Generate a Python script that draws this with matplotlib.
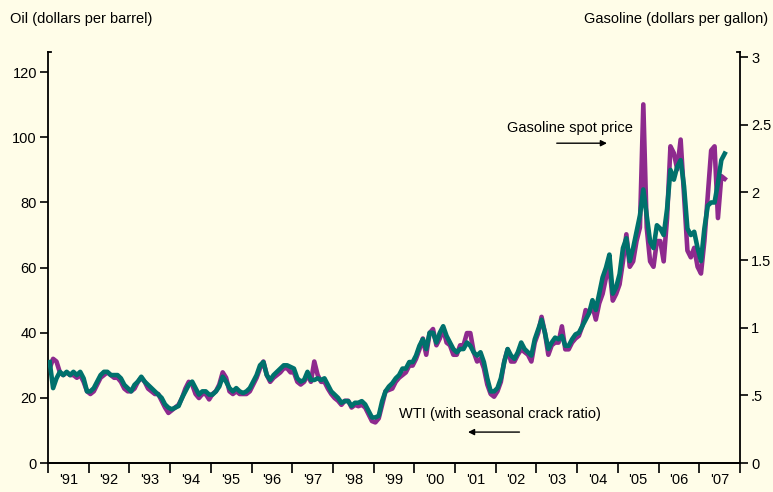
import numpy as np
import pandas as pd
import matplotlib
matplotlib.use("Agg")
import matplotlib.pyplot as plt
from matplotlib.lines import Line2D

plt.rcParams["font.family"] = ["Liberation Sans", "DejaVu Sans"]

BG = "#FFFDE8"
TEAL = "#00716C"
PURPLE = "#8E2A8E"
FS = 10.5

# monthly readings, Jan 1991 - Aug 2007
wti = [
    31, 23, 26, 28, 27, 28, 27, 28, 27, 28, 26, 22,          # 1991
    22, 23, 25, 27, 28, 28, 27, 27, 27, 26, 24, 23,          # 1992
    22, 24, 25, 26.5, 25, 24, 23, 22, 21, 20, 18, 17,        # 1993
    16.5, 17, 17.5, 20, 22, 24, 25, 23, 21, 22, 22, 21,      # 1994
    21, 22, 23.5, 26.5, 25, 23, 22, 23, 22, 21.5, 22, 23,    # 1995
    25, 27, 30, 31, 27, 25.5, 27, 28, 29, 30, 30, 29.5,      # 1996
    29, 26, 25, 25.5, 28, 25.5, 25.5, 26, 25.5, 26, 24, 22,  # 1997
    21, 20, 18.5, 19, 19, 17.5, 18.5, 18.5, 19, 18, 16, 14,  # 1998
    14, 14.5, 19, 22, 23.5, 24.5, 26, 27, 29, 29, 31, 31,    # 1999
    33, 36, 38, 35, 40, 40, 37, 40, 42, 39, 37, 35,          # 2000
    34, 35, 35, 37, 36, 34, 33, 34, 31, 26, 22, 22,          # 2001
    23, 26, 31, 35, 33, 32, 34, 37, 35, 34, 33, 38,          # 2002
    41, 44, 40, 35, 37, 38.5, 38, 39, 36, 36, 38, 39.5,      # 2003
    40, 42, 44, 46, 50, 47, 52, 57, 60, 64, 52, 54,          # 2004
    58, 66, 69, 62, 66, 71, 76, 84, 76, 68, 66, 73,          # 2005
    72, 70, 78, 90, 87, 91, 93, 85, 72, 70, 71, 66,          # 2006
    62, 72, 79, 80, 80, 86, 93, 95,                          # 2007
]

gasoline = [
    0.70, 0.77, 0.75, 0.67, 0.65, 0.67, 0.65, 0.65, 0.63, 0.65, 0.60, 0.53,
    0.51, 0.53, 0.58, 0.63, 0.65, 0.67, 0.65, 0.63, 0.63, 0.60, 0.55, 0.53,
    0.53, 0.55, 0.60, 0.63, 0.60, 0.55, 0.53, 0.51, 0.51, 0.46, 0.41, 0.37,
    0.39, 0.41, 0.43, 0.48, 0.55, 0.60, 0.58, 0.51, 0.48, 0.51, 0.51, 0.47,
    0.51, 0.53, 0.58, 0.67, 0.63, 0.53, 0.51, 0.53, 0.51, 0.51, 0.51, 0.53,
    0.58, 0.63, 0.70, 0.75, 0.65, 0.60, 0.63, 0.65, 0.67, 0.70, 0.70, 0.67,
    0.67, 0.60, 0.58, 0.60, 0.65, 0.60, 0.75, 0.65, 0.60, 0.60, 0.55, 0.51,
    0.48, 0.46, 0.43, 0.46, 0.46, 0.41, 0.43, 0.42, 0.43, 0.41, 0.36, 0.31,
    0.30, 0.33, 0.43, 0.53, 0.54, 0.55, 0.60, 0.63, 0.65, 0.67, 0.72, 0.72,
    0.77, 0.84, 0.92, 0.80, 0.96, 0.99, 0.87, 0.92, 0.99, 0.89, 0.87, 0.80,
    0.80, 0.87, 0.87, 0.96, 0.96, 0.82, 0.75, 0.77, 0.70, 0.58, 0.51, 0.49,
    0.53, 0.60, 0.75, 0.84, 0.75, 0.75, 0.80, 0.84, 0.82, 0.80, 0.75, 0.89,
    0.96, 1.08, 0.96, 0.80, 0.87, 0.89, 0.89, 1.01, 0.84, 0.84, 0.89, 0.92,
    0.94, 1.01, 1.13, 1.11, 1.16, 1.06, 1.18, 1.25, 1.37, 1.45, 1.20, 1.25,
    1.32, 1.49, 1.69, 1.45, 1.49, 1.64, 1.74, 2.65, 1.74, 1.49, 1.45, 1.64,
    1.64, 1.49, 1.81, 2.34, 2.29, 2.17, 2.39, 1.98, 1.57, 1.52, 1.59, 1.45,
    1.40, 1.64, 1.98, 2.31, 2.34, 1.81, 2.12, 2.10,
]

years = list(range(1991, 2008))
year_labels = ["'%02d" % (y % 100) for y in years]

dates = pd.date_range("1991-01-01", periods=len(wti), freq="MS")
t = dates.year + (dates.month - 0.5) / 12.0

fig = plt.figure(figsize=(7.73, 4.92), dpi=100, facecolor=BG)
ax = fig.add_axes([0.0621, 0.0589, 0.8952, 0.8354], facecolor=BG)
ax2 = ax.twinx()

ax2.plot(t, gasoline, color=PURPLE, lw=3.3, solid_joinstyle="round", zorder=2)
ax.plot(t, wti, color=TEAL, lw=3.3, solid_joinstyle="round", zorder=3)
ax.set_zorder(ax2.get_zorder() + 1)
ax.patch.set_visible(False)
ax2.patch.set_facecolor(BG)

ax.set_xlim(1991, 2008)
ax.set_ylim(0, 126.2)
ax2.set_ylim(0, 3.037)

for a in (ax, ax2):
    a.spines["top"].set_visible(False)
    a.spines["left"].set_linewidth(1.3)
    a.spines["right"].set_linewidth(1.3)
    a.spines["bottom"].set_linewidth(1.3)
ax.spines["right"].set_visible(False)
ax2.spines["left"].set_visible(False)

ax.set_yticks(range(0, 121, 20))
ax.tick_params(axis="y", direction="out", length=6, width=1.2, labelsize=FS, pad=2)
ax2.set_yticks([0, 0.5, 1, 1.5, 2, 2.5, 3])
ax2.set_yticklabels(["0", ".5", "1", "1.5", "2", "2.5", "3"])
ax2.tick_params(axis="y", direction="out", length=6, width=1.2, labelsize=FS, pad=2)

ax.set_xticks(range(1991, 2009))
ax.set_xticklabels([])
ax.set_xticks([y + 0.5 for y in years], minor=True)
ax.set_xticklabels(year_labels, minor=True)
ax.tick_params(axis="x", which="major", direction="out", length=7, width=1.2)
ax.tick_params(axis="x", which="minor", length=0, labelsize=FS, pad=7)

# small caps at the top of each vertical spine
ax.add_line(Line2D([0, 0.005], [1, 1], transform=ax.transAxes, color="black",
                   lw=1.3, clip_on=False))
ax.add_line(Line2D([0.995, 1], [1, 1], transform=ax.transAxes, color="black",
                   lw=1.3, clip_on=False))

fig.text(10 / 773, 1 - 19 / 492, "Oil (dollars per barrel)", ha="left",
         va="center", fontsize=FS)
fig.text(768 / 773, 1 - 19 / 492, "Gasoline (dollars per gallon)", ha="right",
         va="center", fontsize=FS)

ax.text(2002.28, 102.8, "Gasoline spot price", ha="left", va="center", fontsize=FS)
ax.annotate("", xy=(2004.8, 98.2), xytext=(2003.43, 98.2),
            arrowprops=dict(arrowstyle="-|>", color="black", lw=1.0,
                            mutation_scale=9))
ax.text(1999.62, 15.0, "WTI (with seasonal crack ratio)", ha="left",
        va="center", fontsize=FS)
ax.annotate("", xy=(2001.25, 9.5), xytext=(2002.65, 9.5),
            arrowprops=dict(arrowstyle="-|>", color="black", lw=1.0,
                            mutation_scale=9))

fig.savefig("out.png", dpi=100, facecolor=BG)
